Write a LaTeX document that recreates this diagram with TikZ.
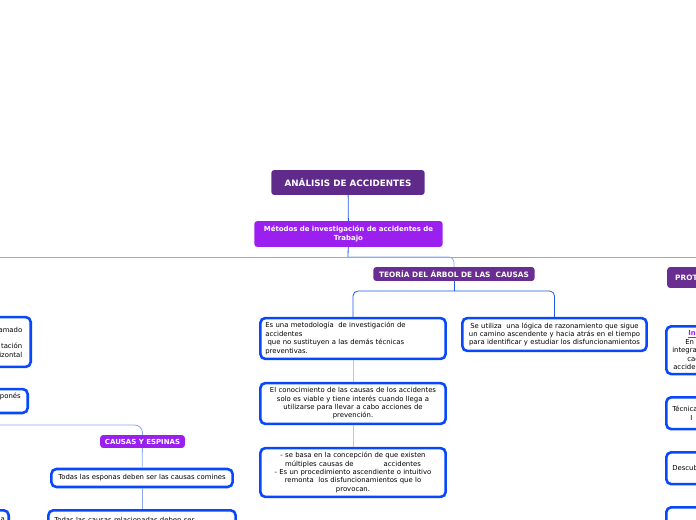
\documentclass[tikz,border=0pt]{standalone}
\usepackage{fontspec}
\setmainfont{DejaVu Sans}
\usetikzlibrary{positioning}
\definecolor{rootpurple}{RGB}{96,42,138}
\definecolor{brightpurple}{RGB}{155,32,240}
\definecolor{darkpurple}{RGB}{106,45,145}
\definecolor{boxblue}{RGB}{8,72,250}
\definecolor{linkblue}{RGB}{30,90,230}
\definecolor{softblue}{RGB}{140,168,240}
\definecolor{paleblue}{RGB}{178,198,245}
\tikzset{
	rootbox/.style={fill=rootpurple, text=white, rounded corners=3, inner sep=0,
		font=\fontsize{8.8}{10}\selectfont\bfseries},
	methodbox/.style={fill=brightpurple, text=white, rounded corners=3, inner sep=0, align=center,
		font=\fontsize{7}{8.6}\selectfont\bfseries},
	topicbox/.style={fill=darkpurple, text=white, rounded corners=3, inner sep=0,
		font=\fontsize{7.4}{8}\selectfont\bfseries},
	textbox/.style={draw=boxblue, line width=2.6, fill=white, rounded corners=5, inner sep=0,
		align=center, font=\fontsize{6.9}{8.4}\selectfont},
	link/.style={draw=linkblue, line width=0.8},
	softlink/.style={draw=softblue, line width=0.8},
	palelink/.style={draw=paleblue, line width=0.8}
}
\begin{document}
\begin{tikzpicture}[x=1bp, y=-1bp]
	\useasboundingbox (0,0) rectangle (696,520);
	\clip (0,0) rectangle (696,520);
	% centro
	\node[rootbox, minimum width=154, minimum height=25] (analisis) at (348,182.5) {ANÁLISIS DE ACCIDENTES};
	\node[methodbox, minimum width=189, minimum height=26, text width=184] (metodos) at (348.5,234)
		{Métodos de investigación de accidentes de\\Trabajo};
	\coordinate (izq) at (0,257);
	\coordinate (der) at (696,257);
	\coordinate (cruce) at (348,257);
	\draw[link] (analisis) -- (metodos);
	\draw[softlink] (izq) -- (der);
	\draw[link] (metodos) -- (cruce);
	% teoria del arbol
	\node[topicbox, minimum width=162, minimum height=14] (teoria) at (454,274) {TEORÍA DEL ÁRBOL DE LAS~ CAUSAS};
	\draw[softlink, rounded corners=5] (cruce) -| (teoria.north);
	\node[textbox, minimum width=186, minimum height=41, text width=176, align=left] (metodologia) at (353,338.5)
		{Es una metodología~ de investigación de\\accidentes\\~que no sustituyen a las demás técnicas\\preventivas.};
	\node[textbox, minimum width=185, minimum height=33, text width=182] (razonamiento) at (554.5,334.5)
		{Se utiliza~ una lógica de razonamiento que sigue\\un camino ascendente y hacia atrás en el tiempo\\para identificar y estudiar los disfuncionamientos};
	\node[textbox, minimum width=186, minimum height=41, text width=180] (conocimiento) at (353,403.5)
		{El conocimiento de las causas de los accidentes\\solo es viable y tiene interés cuando llega a\\utilizarse para llevar a cabo acciones de\\prevención.};
	\node[textbox, minimum width=186, minimum height=49, text width=180] (concepcion) at (353,472.5)
		{- se basa en la concepción de que existen\\múltiples causas de\hspace{30bp}accidentes\\- Es un procedimiento ascendiente o intuitivo\\remonta~ los disfuncionamientos que lo\\provocan.};
	\coordinate (rama) at (454,291);
	\draw[link] (teoria) -- (rama);
	\draw[link, rounded corners=5] (rama) -| (metodologia.north);
	\draw[link, rounded corners=5] (rama) -| (razonamiento.north);
	\draw[palelink] (metodologia) -- (conocimiento);
	\draw[palelink] (conocimiento) -- (concepcion);
	% izquierda
	\node[textbox, anchor=east, minimum width=92, minimum height=50, text width=75, align=right] (llamado) at (32,342)
		{amado\\\strut\\tación\\izontal};
	\node[textbox, anchor=east, minimum width=92, minimum height=24, text width=78, align=right] (japones) at (29,401)
		{aponés\\\strut};
	\coordinate (izq2) at (0,425);
	\node[methodbox, minimum width=85, minimum height=13] (espinas) at (142.5,441.5) {CAUSAS Y ESPINAS};
	\draw[softlink, rounded corners=8] (izq2) -| (espinas.north);
	\node[textbox, minimum width=182, minimum height=18] (esponas) at (142,478)
		{Todas las esponas deben ser las causas comines};
	\node[textbox, anchor=north, minimum width=188, minimum height=30, text width=176, align=left, inner ysep=3.5] (relacionadas) at (142,509)
		{Todas las causas relacionadas deben ser\\\strut};
	\node[textbox, anchor=north east, minimum width=80, minimum height=30, text width=72, align=right, inner ysep=3.5] (otra) at (10,509)
		{a\\\strut};
	\draw[softlink] (espinas) -- (esponas);
	\draw[softlink] (esponas) -- (relacionadas);
	% derecha
	\node[topicbox, anchor=west, minimum width=100, minimum height=21, text width=84, align=left] (protocolo) at (667,277.5) {PROT};
	\node[textbox, anchor=north west, minimum width=100, minimum height=48, text width=88, align=left] (integrar) at (665,325)
		{\hspace{16bp}\textcolor{brightpurple}{\bfseries\underline{In}}\\\hspace{13bp}En a\\integrar\\\hspace{15bp}cad\\\hspace{1bp}acciden};
	\node[textbox, anchor=north west, minimum width=100, minimum height=32, text width=88, align=left] (tecnica) at (665,396)
		{Técnica\\\hspace{18bp}I};
	\node[textbox, anchor=north west, minimum width=100, minimum height=32, text width=88, align=left] (descubrir) at (665,451)
		{Descub};
	\node[textbox, anchor=north west, minimum width=100, minimum height=32] (ultima) at (665,506) {};
\end{tikzpicture}
\end{document}
